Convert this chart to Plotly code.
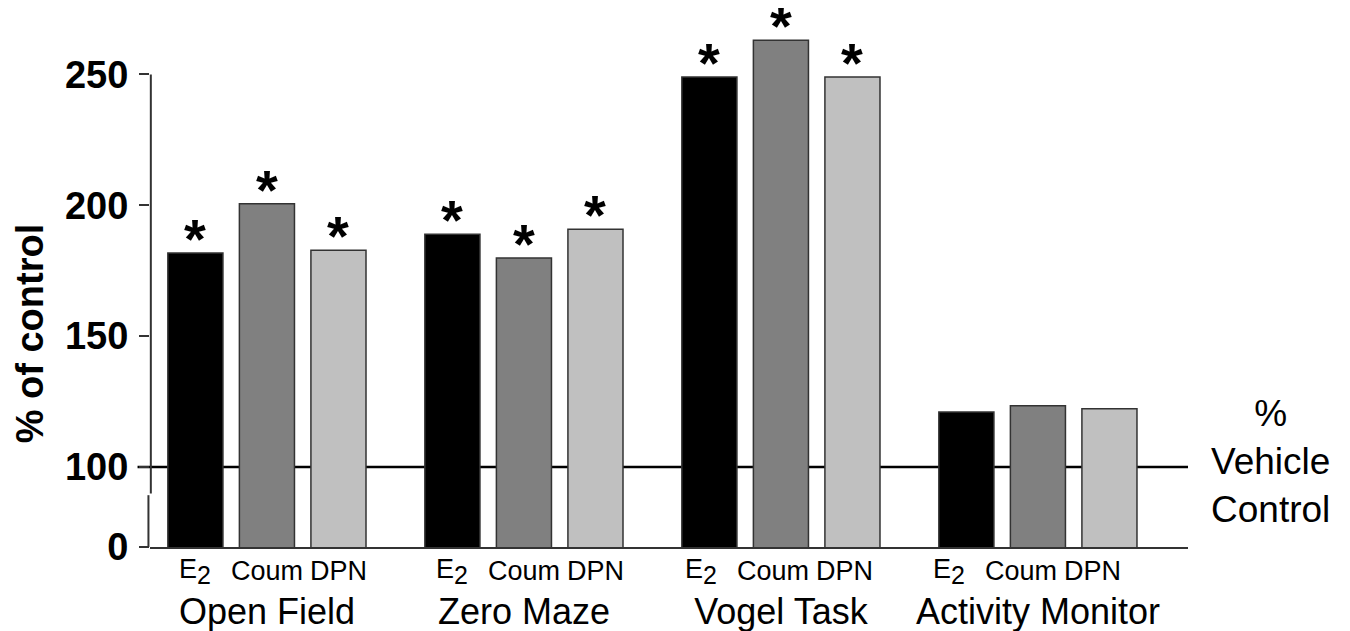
import plotly.graph_objects as go

groups = ["Open Field", "Zero Maze", "Vogel Task", "Activity Monitor"]
treatments = ["E<sub><span style='font-size:25px'>2</span></sub>", "Coum", "DPN"]
e2 = [181.7, 188.9, 249.0, 121.0]
coum = [200.6, 179.8, 263.0, 123.4]
dpn = [182.8, 190.8, 249.0, 122.2]
sig_e2 = ["*", "*", "*", ""]
sig_coum = ["*", "*", "*", ""]
sig_dpn = ["*", "*", "*", ""]
colors = ["#000000", "#808080", "#c0c0c0"]
y_ticks = [0, 100, 150, 200, 250]
y_break = 69.4  # visual position of the "0" on the broken axis

FONT = "Arial, Liberation Sans, Helvetica, sans-serif"
bargap = 0.165
slot = (1 - bargap) / 3
label_shift = [0, 0, -8, -17]  # sub-label pixel nudges per group

fig = go.Figure()
for name, vals, col in zip(["E2", "Coum", "DPN"], [e2, coum, dpn], colors):
    fig.add_trace(go.Bar(
        x=groups, y=vals, name=name,
        marker=dict(color=col, line=dict(color="#333333", width=1.5)),
    ))

tickvals = [y_break if t == 0 else t for t in y_ticks]
fig.update_layout(
    width=1342, height=623, barmode="group", bargap=bargap, bargroupgap=0.23,
    plot_bgcolor="white", paper_bgcolor="white", showlegend=False,
    margin=dict(l=142, r=162, t=2, b=84),
    font=dict(family=FONT, color="black"),
    xaxis=dict(range=[-0.455, 3.584], showline=True, linecolor="#333333", linewidth=2,
               ticks="", tickfont=dict(size=36), ticklabelstandoff=32, showgrid=False,
               automargin=False),
    yaxis=dict(range=[y_break, 274.6], tickvals=tickvals, ticktext=[str(t) for t in y_ticks],
               ticks="outside", ticklen=10, tickwidth=2, tickcolor="#333333",
               tickfont=dict(size=38, family=FONT, weight="bold"), ticklabelstandoff=3,
               showgrid=False, zeroline=False, showline=False, automargin=False),
)

# broken y-axis line
fig.add_shape(type="line", xref="paper", yref="y", x0=-0.0015, x1=-0.0015, y0=y_break, y1=89.2,
              line=dict(color="#333333", width=2))
fig.add_shape(type="line", xref="paper", yref="y", x0=0.0008, x1=0.0008, y0=89.8, y1=250,
              line=dict(color="#333333", width=2))
# vehicle control reference line
fig.add_shape(type="line", xref="paper", yref="y", x0=-0.012, x1=1.0, y0=100, y1=100,
              line=dict(color="black", width=2.5), layer="below")

# significance asterisks
for k, (vals, sig) in enumerate(zip([e2, coum, dpn], [sig_e2, sig_coum, sig_dpn])):
    for gi, (v, s) in enumerate(zip(vals, sig)):
        if s:
            fig.add_annotation(x=gi + (k - 1) * slot, y=v, xref="x", yref="y", text="<b>" + s + "</b>",
                               showarrow=False, font=dict(size=56), yanchor="bottom", yshift=-19)

# treatment sub-labels
for gi, g in enumerate(groups):
    for k, t in enumerate(treatments):
        fig.add_annotation(x=gi + (k - 1) * slot, y=-0.045, xref="x", yref="paper", text=t,
                           showarrow=False, font=dict(size=27), yanchor="middle",
                           xshift=label_shift[gi])

fig.add_annotation(x=-0.1156, y=0.398, xref="paper", yref="paper", text="<b>% of control</b>",
                   textangle=-90, showarrow=False, font=dict(size=38), xanchor="center", yanchor="middle")
fig.add_annotation(x=1.079, y=0.16, xref="paper", yref="paper",
                   text="%<br>Vehicle<br>Control", showarrow=False, font=dict(size=37), align="center",
                   xanchor="center", yanchor="middle")

fig.write_html("out.html")
